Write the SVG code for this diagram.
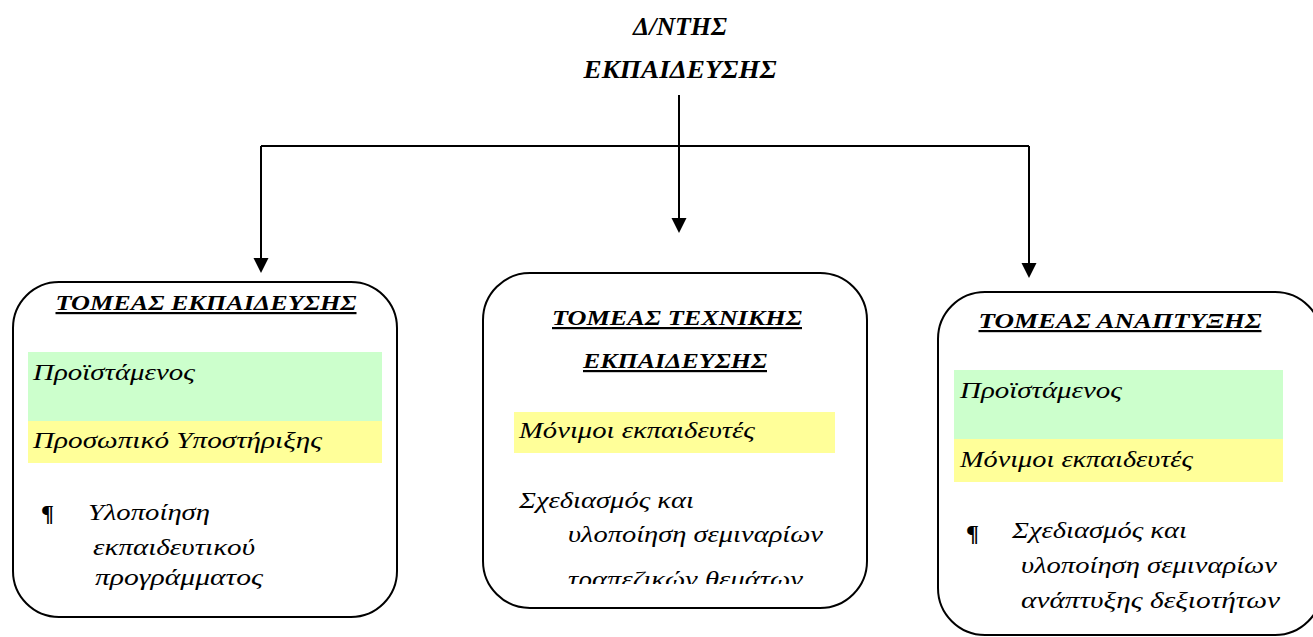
<svg xmlns="http://www.w3.org/2000/svg" width="1313" height="637" viewBox="0 0 1313 637">
  <style>
    .box { fill: #ffffff; stroke: #000000; stroke-width: 2; }
    .green { fill: #CCFFCC; }
    .yellow { fill: #FFFF99; }
    .wire { fill: none; stroke: #000000; stroke-width: 2; }
  </style>
  <defs>
    <marker id="arrow" markerUnits="userSpaceOnUse" markerWidth="16" markerHeight="16" refX="11" refY="7.5" orient="auto">
      <path d="M0,0 L15,7.5 L0,15 z" fill="#000"/>
    </marker>
    <clipPath id="midClip">
      <rect x="483" y="273" width="384" height="311"/>
    </clipPath>
  </defs>

  <rect width="1313" height="637" fill="#ffffff"/>

  <!-- director -->
  <g id="director" font-family="Liberation Serif, serif" font-style="italic" font-weight="bold" font-size="25">
    <text x="680" y="35" text-anchor="middle" textLength="94" lengthAdjust="spacingAndGlyphs">Δ/ΝΤΗΣ</text>
    <text x="680" y="78" text-anchor="middle" textLength="193" lengthAdjust="spacingAndGlyphs">ΕΚΠΑΙΔΕΥΣΗΣ</text>
  </g>

  <!-- connectors -->
  <g id="connectors">
    <path class="wire" d="M679,95 V229" marker-end="url(#arrow)"/>
    <path class="wire" d="M261,146 H1029"/>
    <path class="wire" d="M261,146 V269" marker-end="url(#arrow)"/>
    <path class="wire" d="M1029,146 V274" marker-end="url(#arrow)"/>
  </g>

  <!-- training sector -->
  <g id="sector-training" font-family="Liberation Serif, serif" font-style="italic" font-size="24">
    <rect class="box" x="13" y="282" width="384" height="335" rx="46" ry="46"/>
    <rect class="green" x="28" y="352" width="354" height="69"/>
    <rect class="yellow" x="28" y="421" width="354" height="42"/>
    <text x="206" y="310" text-anchor="middle" font-weight="bold" font-size="22" text-decoration="underline" textLength="301" lengthAdjust="spacingAndGlyphs">ΤΟΜΕΑΣ ΕΚΠΑΙΔΕΥΣΗΣ</text>
    <text x="33" y="380" textLength="162" lengthAdjust="spacingAndGlyphs">Προϊστάμενος</text>
    <text x="33" y="448" textLength="289" lengthAdjust="spacingAndGlyphs">Προσωπικό Υποστήριξης</text>
    <text x="41" y="521" font-style="normal" font-weight="bold">¶</text>
    <text x="88" y="520" textLength="122" lengthAdjust="spacingAndGlyphs">Υλοποίηση</text>
    <text x="93" y="555" textLength="162" lengthAdjust="spacingAndGlyphs">εκπαιδευτικού</text>
    <text x="95" y="585" textLength="168" lengthAdjust="spacingAndGlyphs">προγράμματος</text>
  </g>

  <!-- technical training sector -->
  <g id="sector-technical" font-family="Liberation Serif, serif" font-style="italic" font-size="24">
    <rect class="box" x="483" y="273" width="384" height="335" rx="47" ry="47"/>
    <rect class="yellow" x="514" y="412" width="321" height="41"/>
    <text x="677" y="325" text-anchor="middle" font-weight="bold" font-size="22" text-decoration="underline" textLength="250" lengthAdjust="spacingAndGlyphs">ΤΟΜΕΑΣ ΤΕΧΝΙΚΗΣ</text>
    <text x="675" y="368" text-anchor="middle" font-weight="bold" font-size="22" text-decoration="underline" textLength="184" lengthAdjust="spacingAndGlyphs">ΕΚΠΑΙΔΕΥΣΗΣ</text>
    <text x="519" y="438" textLength="236" lengthAdjust="spacingAndGlyphs">Μόνιμοι εκπαιδευτές</text>
    <text x="519" y="508" textLength="175" lengthAdjust="spacingAndGlyphs">Σχεδιασμός και</text>
    <text x="568" y="542" textLength="255" lengthAdjust="spacingAndGlyphs">υλοποίηση σεμιναρίων</text>
    <g clip-path="url(#midClip)">
      <text x="568" y="587" textLength="235" lengthAdjust="spacingAndGlyphs">τραπεζικών θεμάτων</text>
    </g>
  </g>

  <!-- development sector -->
  <g id="sector-development" font-family="Liberation Serif, serif" font-style="italic" font-size="24">
    <rect class="box" x="938" y="292" width="384" height="343" rx="47" ry="47"/>
    <rect class="green" x="954" y="370" width="329" height="69"/>
    <rect class="yellow" x="954" y="439" width="329" height="43"/>
    <text x="1120" y="328" text-anchor="middle" font-weight="bold" font-size="22" text-decoration="underline" textLength="283" lengthAdjust="spacingAndGlyphs">ΤΟΜΕΑΣ ΑΝΑΠΤΥΞΗΣ</text>
    <text x="960" y="398" textLength="162" lengthAdjust="spacingAndGlyphs">Προϊστάμενος</text>
    <text x="960" y="467" textLength="233" lengthAdjust="spacingAndGlyphs">Μόνιμοι εκπαιδευτές</text>
    <text x="966" y="541" font-style="normal" font-weight="bold">¶</text>
    <text x="1012" y="538" textLength="175" lengthAdjust="spacingAndGlyphs">Σχεδιασμός και</text>
    <text x="1021" y="573" textLength="256" lengthAdjust="spacingAndGlyphs">υλοποίηση σεμιναρίων</text>
    <text x="1021" y="608" textLength="259" lengthAdjust="spacingAndGlyphs">ανάπτυξης δεξιοτήτων</text>
  </g>
</svg>
